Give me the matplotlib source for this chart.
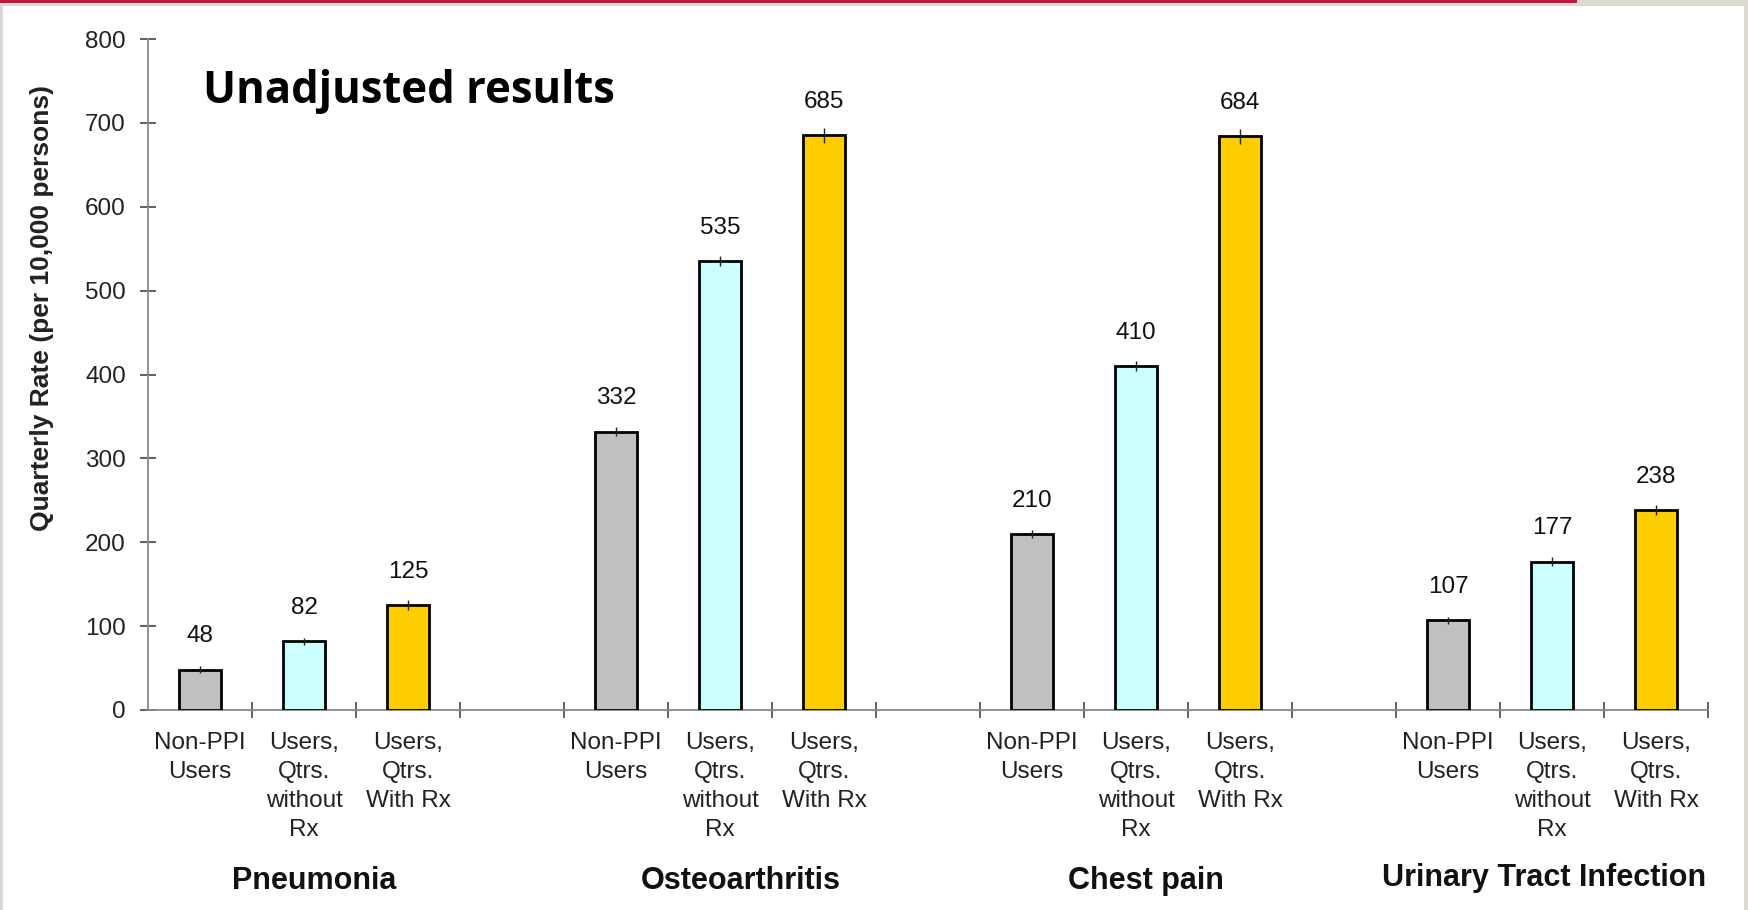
import matplotlib
matplotlib.use("Agg")
import matplotlib.pyplot as plt
from matplotlib.patches import Rectangle
import numpy as np

# Quarterly visit rates per 10,000 persons
conditions = ["Pneumonia", "Osteoarthritis", "Chest pain", "Urinary Tract Infection"]
user_groups = ["Non-PPI\nUsers", "Users,\nQtrs.\nwithout\nRx", "Users,\nQtrs.\nWith Rx"]
non_ppi_users = [48, 332, 210, 107]
qtrs_without_rx = [82, 535, 410, 177]
qtrs_with_rx = [125, 685, 684, 238]
# small confidence half-widths drawn at the bar tops
err_non_ppi = [4, 5, 5, 4]
err_without_rx = [4, 6, 6, 5]
err_with_rx = [6, 9, 9, 6]

series = [non_ppi_users, qtrs_without_rx, qtrs_with_rx]
errors = [err_non_ppi, err_without_rx, err_with_rx]
colors = ["#c0c0c0", "#ccffff", "#ffcc00"]

# horizontal nudge (in slot units) and height of each condition caption
caption_dx = [0.1, 0.2, 0.1, -0.08]
caption_y = [-0.255, -0.255, -0.255, -0.25]

plt.rcParams["font.family"] = ["Liberation Sans", "DejaVu Sans"]

W, H = 1748, 910
fig = plt.figure(figsize=(W / 100, H / 100), dpi=100)
fig.patch.set_facecolor("#dcd9d3")

# white slide panel and red rule along the top
fig.add_artist(Rectangle((3 / W, 0), (1744 - 3) / W, 1 - 6 / H,
                         transform=fig.transFigure, facecolor="white",
                         edgecolor="none", zorder=0))
fig.add_artist(Rectangle((0, 1 - 2.5 / H), 1577 / W, 2.5 / H,
                         transform=fig.transFigure, facecolor="#c0183c",
                         edgecolor="none", zorder=0))

ax = fig.add_axes([148 / W, 1 - 710 / H, (1708 - 148) / W, (710 - 39) / H])
ax.set_facecolor("none")

n_groups = len(conditions)
n_sub = len(user_groups)
slots_per_group = n_sub + 1
bar_w = 0.40

centers = []
labels = []
for g in range(n_groups):
    for j in range(n_sub):
        x = g * slots_per_group + j
        v = series[j][g]
        ax.bar(x, v, width=bar_w, color=colors[j], edgecolor="black",
               linewidth=2.0, zorder=3)
        ax.errorbar(x, v, yerr=errors[j][g], fmt="none", ecolor="#222222",
                    elinewidth=1.0, capsize=0, zorder=4)
        ax.annotate(f"{v}", xy=(x, v), xytext=(0, 24), textcoords="offset points",
                    ha="center", va="center", fontsize=17.5, color="#111111")
        centers.append(x)
        labels.append(user_groups[j])
    gc = g * slots_per_group + (n_sub - 1) / 2
    ax.text(gc + caption_dx[g], caption_y[g], conditions[g],
            transform=ax.get_xaxis_transform(),
            ha="center", va="center", fontsize=22, fontweight="bold", color="#111111")

n_slots = n_groups * slots_per_group - 1
ax.set_xlim(-0.5, n_slots - 0.5)
ax.set_ylim(0, 800)

ax.set_xticks(np.arange(0.5, n_slots, 1.0))
ax.set_xticklabels([])
ax.set_xticks(centers, minor=True)
ax.set_xticklabels(labels, minor=True, fontsize=17.5, color="#222222", linespacing=1.42)
ax.tick_params(axis="x", which="major", direction="inout", length=12, width=1.3, color="#555555")
ax.tick_params(axis="x", which="minor", length=0, pad=15.5)

ax.set_yticks(np.arange(0, 801, 100))
ax.tick_params(axis="y", direction="inout", length=12, width=1.3, color="#555555",
               labelsize=17.5, labelcolor="#222222", pad=10)

for side in ["top", "right"]:
    ax.spines[side].set_visible(False)
for side in ["left", "bottom"]:
    ax.spines[side].set_color("#888888")
    ax.spines[side].set_linewidth(1.3)

fig.text(42 / W, 1 - 308 / H, "Quarterly Rate (per 10,000 persons)", rotation=90,
         ha="center", va="center", fontsize=19, fontweight="bold", color="#222222")

# heading, sized so that it spans 412 px
title = fig.text(203 / W, 1 - 91 / H, "Unadjusted results", ha="left", va="center",
                 fontsize=30, fontweight="bold", family=["Open Sans", "DejaVu Sans"],
                 color="black")
renderer = fig.canvas.get_renderer()
tw = title.get_window_extent(renderer).width
title.set_fontsize(30 * 412 / tw)

fig.savefig("out.png", dpi=100, facecolor=fig.get_facecolor())
